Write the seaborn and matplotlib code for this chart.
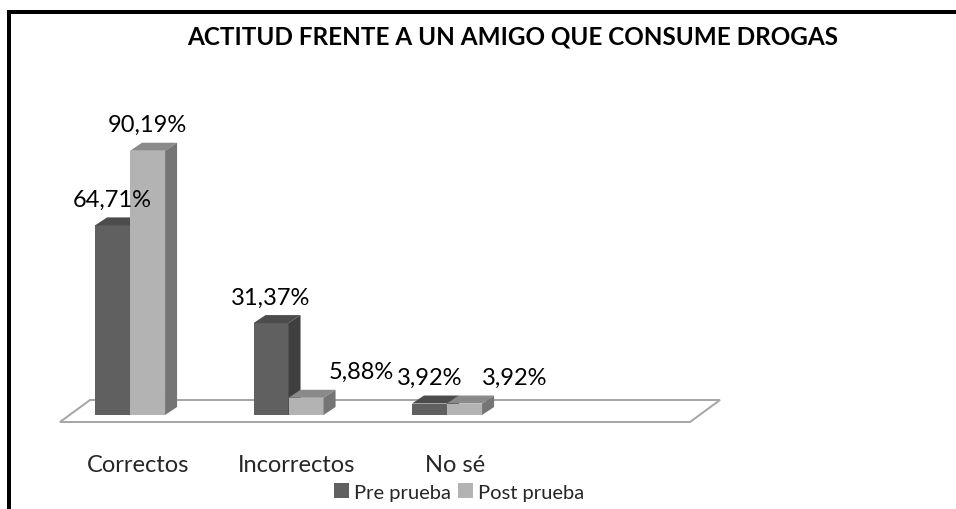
import numpy as np
import pandas as pd
import matplotlib
matplotlib.use("Agg")
import matplotlib.pyplot as plt
import seaborn as sns
from matplotlib.patches import Polygon, Rectangle
from matplotlib.transforms import IdentityTransform, ScaledTranslation

# ---------------- data ----------------
title = "ACTITUD FRENTE A UN AMIGO QUE CONSUME DROGAS"
categories = ["Correctos", "Incorrectos", "No sé"]
series = ["Pre prueba", "Post prueba"]
pre_values = [64.71, 31.37, 3.92]
post_values = [90.19, 5.88, 3.92]

df = pd.DataFrame({
    "Categoría": categories * 2,
    "Serie": [series[0]] * len(categories) + [series[1]] * len(categories),
    "Valor": pre_values + post_values,
})

# ---------------- style ----------------
sns.set_style("white")
plt.rcParams["font.family"] = ["Lato", "DejaVu Sans"]

W, H, DPI = 956, 510, 100
PT = 72 / DPI  # points per pixel
fig = plt.figure(figsize=(W / DPI, H / DPI), dpi=DPI)
fig.patch.set_facecolor("white")

ax = fig.add_axes([50 / W, (H - 416) / H, 650 / W, 293 / H])
ax.set_facecolor("none")

front = {"Pre prueba": "#606060", "Post prueba": "#b3b3b3"}
shades = [("#4c4c4c", "#3f3f3f"), ("#8a8a8a", "#757575")]  # (top, side)

sns.barplot(data=df, x="Categoría", y="Valor", hue="Serie", palette=front,
            width=0.442, gap=0, saturation=1, ax=ax, legend=False,
            edgecolor="none", linewidth=0)
ax.set_xlim(-0.505, 3.596)
ax.set_ylim(0, 100)
for s in ax.spines.values():
    s.set_visible(False)
ax.set_yticks([])
ax.set_xlabel("")
ax.set_ylabel("")
ax.set_xticks(range(len(categories)), categories)
ax.tick_params(axis="x", length=0, pad=28, labelsize=17)
shift = ScaledTranslation(8 / DPI, 0, fig.dpi_scale_trans)
for lbl in ax.get_xticklabels():
    lbl.set_transform(lbl.get_transform() + shift)

T = ax.transData
bb = ax.bbox
base_y = T.transform((0, 0))[1]

# floor (3D base plane)
FDX = 30
floor = [(bb.x0 + 10, base_y - 7), (bb.x1 - 10, base_y - 7),
         (bb.x1 - 10 + FDX, base_y + 15), (bb.x0 + 10 + FDX, base_y + 15)]
ax.add_patch(Polygon(floor, closed=True, transform=IdentityTransform(),
                     facecolor="white", edgecolor="#a6a6a6", lw=2 * PT,
                     zorder=1, clip_on=False))

# 3D faces for bars
DX, DY = 12, 8
for level, cont in enumerate(ax.containers):
    for bar in cont:
        bar.set_zorder(3 + 2 * level)
        x0 = bar.get_x()
        x1 = x0 + bar.get_width()
        h = bar.get_height()
        (px0, py0), (px1, py1) = T.transform([(x0, 0), (x1, h)])
        top = [(px0, py1), (px1, py1), (px1 + DX, py1 + DY), (px0 + DX, py1 + DY)]
        side = [(px1, py0), (px1 + DX, py0 + DY), (px1 + DX, py1 + DY), (px1, py1)]
        for verts, c in ((top, shades[level][0]), (side, shades[level][1])):
            ax.add_patch(Polygon(verts, closed=True, transform=IdentityTransform(),
                                 facecolor=c, edgecolor="none",
                                 zorder=3.5 + 2 * level, clip_on=False))

# value labels
nudge_px = {(1, 1): 55, (1, 2): 50}
for level, cont in enumerate(ax.containers):
    for i, bar in enumerate(cont):
        v = bar.get_height()
        lab = f"{v:.2f}".replace(".", ",") + "%"
        cx = bar.get_x() + bar.get_width() / 2
        ax.annotate(lab, xy=(cx, v),
                    xytext=(nudge_px.get((level, i), 0) * PT, 26 * PT),
                    textcoords="offset points", ha="center", va="center",
                    fontsize=17, color="black", zorder=10, annotation_clip=False)

# title
fig.text(513 / W, 1 - 37 / H, title, ha="center", va="center",
         fontsize=17.5, fontweight="bold", color="black")

# legend
handles = [Rectangle((0, 0), 1, 1, facecolor=front[s], edgecolor="none") for s in series]
fig.legend(handles, series, loc="center", bbox_to_anchor=(459 / W, 1 - 493 / H),
           ncol=2, frameon=False, fontsize=14.5, handlelength=0.75, handleheight=0.75,
           handletextpad=0.25, columnspacing=0.35)

# outer frame (left and top edges visible)
fig.add_artist(Rectangle((9 / W, -0.1), 2, (1 - 13 / H) + 0.1,
                         transform=fig.transFigure, fill=False,
                         edgecolor="black", lw=4 * PT, clip_on=False))

fig.savefig("out.png", dpi=DPI, facecolor="white")
